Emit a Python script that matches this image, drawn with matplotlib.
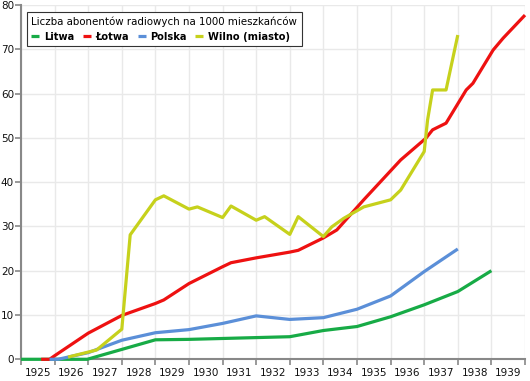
import matplotlib
matplotlib.use("Agg")
import matplotlib.pyplot as plt
from matplotlib.ticker import FixedLocator, NullFormatter, FixedFormatter

# ---- data ----
lt_years = [1925.0, 1926.97, 1929.0, 1930.0, 1931.0, 1932.0, 1933.0, 1934.0, 1935.0, 1936.0, 1937.0, 1938.0, 1939.0]
lt_vals  = [0, 0, 4.4, 4.5, 4.7, 4.9, 5.1, 6.5, 7.4, 9.6, 12.3, 15.3, 20.0]

lv_years = [1925.6, 1925.85, 1926.0, 1927.0, 1928.0, 1929.0, 1929.25, 1930.0, 1931.0, 1931.25, 1932.0,
            1933.0, 1933.25, 1934.0, 1934.4, 1935.2, 1936.3, 1937.05, 1937.25, 1937.65, 1938.25,
            1938.45, 1939.05, 1939.35, 1940.0]
lv_vals  = [0, 0, 0.8, 5.9, 9.9, 12.6, 13.4, 17.1, 20.9, 21.8, 22.9,
            24.2, 24.6, 27.4, 29.2, 36.0, 45.0, 49.9, 51.8, 53.3, 60.8,
            62.3, 69.8, 72.5, 77.7]

pl_years = [1925.85, 1926.1, 1927.0, 1928.0, 1929.0, 1930.0, 1931.0, 1932.0, 1933.0, 1934.0, 1935.0, 1936.0, 1937.0, 1938.0]
pl_vals  = [0, 0, 1.5, 4.3, 6.0, 6.7, 8.1, 9.8, 9.0, 9.4, 11.3, 14.3, 19.8, 24.9]

wl_years = [1926.4, 1927.25, 1928.0, 1928.25, 1929.0, 1929.25, 1930.0, 1930.25, 1931.0, 1931.25,
            1932.0, 1932.25, 1933.0, 1933.25, 1934.0, 1934.25, 1934.6, 1935.2, 1936.0, 1936.3,
            1937.0, 1937.1, 1937.25, 1937.65, 1938.0]
wl_vals  = [0.5, 2.1, 6.8, 28.1, 36.0, 36.9, 33.9, 34.4, 32.0, 34.6,
            31.4, 32.2, 28.2, 32.2, 27.7, 29.9, 31.8, 34.4, 36.0, 38.2,
            46.9, 54.0, 60.8, 60.8, 73.2]

series_names = ["Litwa", "Łotwa", "Polska", "Wilno (miasto)"]
colors = ["#17ab46", "#ee1111", "#5b8fd8", "#c6d11c"]
legend_title = "Liczba abonentów radiowych na 1000 mieszkańców"
year_labels = [str(y) for y in range(1925, 1940)]
y_ticks = [0, 10, 20, 30, 40, 50, 60, 70, 80]

# ---- figure ----
W, H = 530, 381
fig = plt.figure(figsize=(W / 100, H / 100), dpi=100)
ax = fig.add_axes([21 / W, 1 - 359.3 / H, (525 - 21) / W, (359.3 - 4.9) / H])

lw = 2.3
data = [(lt_years, lt_vals), (lv_years, lv_vals), (pl_years, pl_vals), (wl_years, wl_vals)]
zorders = [3, 4, 5, 6]
for (xs, ys), name, c, z in zip(data, series_names, colors, zorders):
    ax.plot(xs, ys, color=c, lw=lw, label=name, zorder=z, solid_joinstyle="round",
            solid_capstyle="butt", clip_on=False)

ax.set_xlim(1925, 1940)
ax.set_ylim(0, 80)

# grid
ax.xaxis.set_major_locator(FixedLocator(list(range(1925, 1941))))
ax.xaxis.set_major_formatter(NullFormatter())
ax.xaxis.set_minor_locator(FixedLocator([y + 0.5 for y in range(1925, 1940)]))
ax.xaxis.set_minor_formatter(FixedFormatter(year_labels))
ax.set_yticks(y_ticks)
ax.grid(True, which="major", color="#e9e9e9", lw=1.0, zorder=0)
ax.set_axisbelow(True)

ax.tick_params(axis="x", which="major", length=4, width=1.2, color="#888888", direction="out")
ax.tick_params(axis="x", which="minor", length=0, pad=6, labelsize=7.5, labelcolor="#111111")
ax.tick_params(axis="y", which="major", length=4, width=1.2, color="#888888", pad=1,
               labelsize=7.5, labelcolor="#111111")

for s in ["top", "right"]:
    ax.spines[s].set_visible(False)
for s in ["left", "bottom"]:
    ax.spines[s].set_color("#888888")
    ax.spines[s].set_linewidth(1.5)

leg = ax.legend(title=legend_title, ncol=4, loc="upper left",
                bbox_to_anchor=(27 / W, 1 - 12 / H), bbox_transform=fig.transFigure,
                borderaxespad=0, frameon=True, fancybox=False, edgecolor="#333333",
                framealpha=1, handlelength=0.8, handletextpad=0.45, columnspacing=0.9,
                borderpad=0.45, prop={"size": 7.1, "weight": "bold"},
                title_fontsize=7.35, alignment="left")
leg.get_frame().set_linewidth(0.8)
leg.set_zorder(10)
for h in leg.get_lines():
    h.set_linewidth(2.3)

fig.savefig("out.png", dpi=100)
